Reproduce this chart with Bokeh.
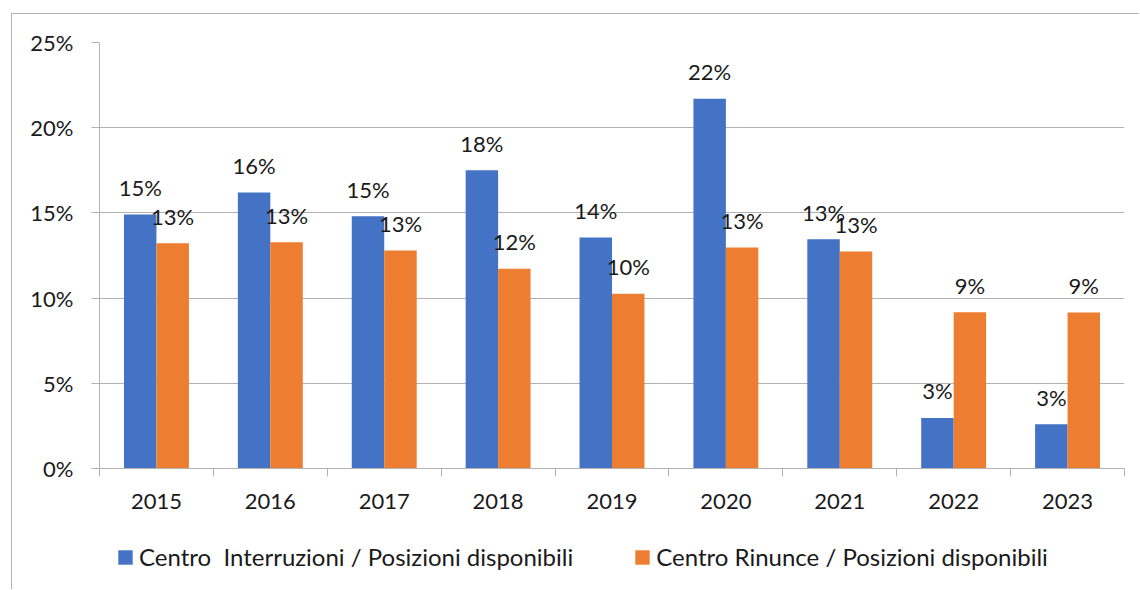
from bokeh.plotting import figure
from bokeh.layouts import column
from bokeh.models import (ColumnDataSource, Range1d, FixedTicker, NumeralTickFormatter,
                          Legend, LegendItem)
from bokeh.transform import dodge
from bokeh.core.properties import value
from bokeh.embed import file_html
from bokeh.resources import INLINE

# ---- data ----
years = ["2015", "2016", "2017", "2018", "2019", "2020", "2021", "2022", "2023"]
interruzioni = [0.149, 0.162, 0.148, 0.175, 0.1355, 0.217, 0.1345, 0.0297, 0.026]
rinunce = [0.1322, 0.1328, 0.1279, 0.1172, 0.1025, 0.1297, 0.1273, 0.0917, 0.0915]
y_ticks = [0.0, 0.05, 0.10, 0.15, 0.20, 0.25]
series_names = ["Centro  Interruzioni / Posizioni disponibili",
                "Centro Rinunce / Posizioni disponibili"]

BLUE = "#4472C4"
ORANGE = "#ED7D31"
GRID = "#b2b2b2"
TXT = "#1a1a1a"
FONT = "Lato"
FS = "22px"

centers = [i + 0.5 for i in range(len(years))]
bounds = list(range(len(years) + 1))


def pct(v):
    return f"{int(v * 100 + 0.5)}%"


src = ColumnDataSource(dict(
    x=centers,
    blue=interruzioni,
    orange=rinunce,
    blue_lbl=[pct(v) for v in interruzioni],
    orange_lbl=[pct(v) for v in rinunce],
))

p = figure(width=1127, height=520, output_backend="svg", toolbar_location=None,
           x_range=Range1d(0, len(years)), y_range=Range1d(0, 0.25),
           min_border_left=87, min_border_right=15, min_border_top=28, min_border_bottom=66)
p.outline_line_color = None
p.background_fill_color = "white"
p.border_fill_color = "white"

off = 0.1425
bw = 0.285
r1 = p.vbar(x=dodge("x", -off), top="blue", width=bw, source=src,
            fill_color=BLUE, line_color=None)
r2 = p.vbar(x=dodge("x", off), top="orange", width=bw, source=src,
            fill_color=ORANGE, line_color=None)

for col, d in (("blue_lbl", -off), ("orange_lbl", off)):
    ycol = "blue" if col == "blue_lbl" else "orange"
    p.text(x=dodge("x", d), y=ycol, text=col, source=src,
           text_align="center", text_baseline="alphabetic", y_offset=-27,
           text_font=value(FONT), text_font_size=FS, text_color=TXT)

# x axis
xa = p.xaxis[0]
xa.ticker = FixedTicker(ticks=centers, minor_ticks=bounds)
xa.major_label_overrides = {c: y for c, y in zip(centers, years)}
xa.major_tick_line_color = None
xa.major_tick_out = 8
xa.major_tick_in = 0
xa.minor_tick_line_color = GRID
xa.minor_tick_out = 8
xa.minor_tick_in = 0
xa.axis_line_color = GRID
xa.major_label_standoff = 17
xa.major_label_text_font = FONT
xa.major_label_text_font_size = FS
xa.major_label_text_color = TXT

# y axis
ya = p.yaxis[0]
ya.ticker = FixedTicker(ticks=y_ticks)
ya.formatter = NumeralTickFormatter(format="0%")
ya.major_tick_line_color = GRID
ya.major_tick_out = 8
ya.major_tick_in = 0
ya.minor_tick_line_color = None
ya.axis_line_color = GRID
ya.major_label_standoff = 18
ya.major_label_text_font = FONT
ya.major_label_text_font_size = FS
ya.major_label_text_color = TXT

p.xgrid.grid_line_color = None
p.ygrid.grid_line_color = GRID
p.ygrid.grid_line_width = 1

# ---- legend strip (separate figure so the legend is not clipped) ----
# its ranges keep the series bars out of view; only the legend shows
p2 = figure(width=1127, height=55, output_backend="svg", toolbar_location=None,
            x_range=Range1d(0, len(years)), y_range=Range1d(10, 11), min_border=0)
p2.axis.visible = False
p2.grid.grid_line_color = None
p2.outline_line_color = None
p2.background_fill_color = "white"
p2.border_fill_color = "white"
l1 = p2.vbar(x=dodge("x", -off), top="blue", width=bw, source=src,
             fill_color=BLUE, line_color=None)
l2 = p2.vbar(x=dodge("x", off), top="orange", width=bw, source=src,
             fill_color=ORANGE, line_color=None)

legend = Legend(items=[LegendItem(label=series_names[0], renderers=[l1]),
                       LegendItem(label=series_names[1], renderers=[l2])],
                orientation="horizontal", location=(17, 18),
                glyph_width=18, glyph_height=18, label_standoff=5, spacing=60,
                padding=0, margin=0, border_line_color=None, background_fill_alpha=0,
                label_text_font=FONT, label_text_font_size="24px", label_text_color=TXT)
p2.add_layout(legend)

layout = column(p, p2, spacing=0, margin=(13, 0, 0, 11),
                styles={"border-left": f"1px solid {GRID}", "border-top": f"1px solid {GRID}"})

open("out.html", "w").write(file_html(layout, INLINE))
